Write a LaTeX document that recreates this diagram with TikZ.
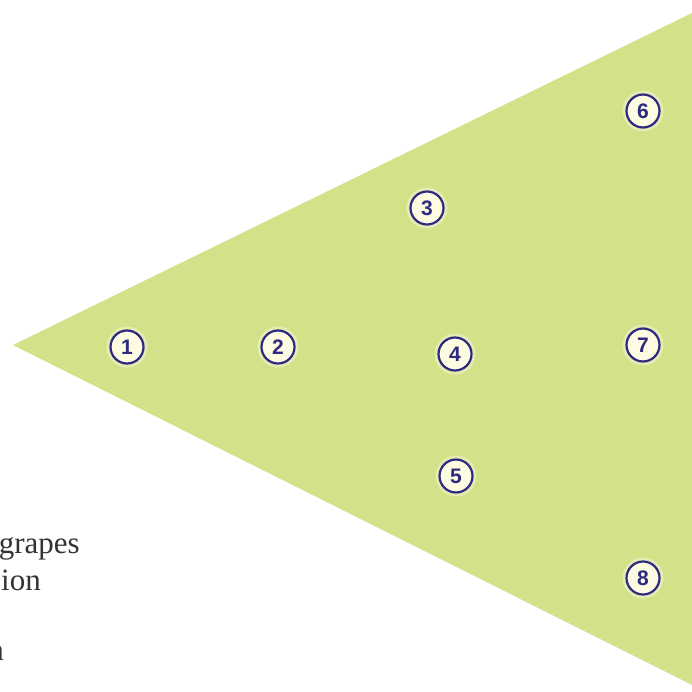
\documentclass[tikz,border=0pt]{standalone}
\usepackage{fontspec}
\setmainfont{Liberation Serif}
\newfontfamily\numfont{Liberation Sans}
\definecolor{leaf}{RGB}{211,225,137}
\definecolor{navy}{RGB}{45,42,128}
\definecolor{cream}{RGB}{253,251,226}
\tikzset{
  num/.style={circle, draw=navy, line width=2.2pt, fill=cream, minimum size=33pt, inner sep=0pt,
    font=\numfont\fontsize{21}{21}\selectfont\bfseries, text=navy},
  glow/.style={circle, fill=cream, opacity=0.45, minimum size=41pt, inner sep=0pt},
  lbl/.style={anchor=base east, inner sep=0pt, font=\fontsize{31}{31}\selectfont, text=black!80}
}
\begin{document}
\begin{tikzpicture}[x=1pt,y=-1pt]
\useasboundingbox (0,0) rectangle (692,692);
\clip (0,0) rectangle (692,692);
\coordinate (apex) at (13,345);
\coordinate (tr) at (692,13);
\coordinate (br) at (692,685);
\fill[leaf] (apex) -- (tr) -- (br) -- cycle;
\foreach \p/\q in {127/347, 278/347, 427/208, 455/354, 456/476, 643/111, 643/345, 643/578}
  \node[glow] at (\p,\q) {};
\node[num] (n1) at (127,347) {1};
\node[num] (n2) at (278,347) {2};
\node[num] (n3) at (427,208) {3};
\node[num] (n4) at (455,354) {4};
\node[num] (n5) at (456,476) {5};
\node[num] (n6) at (643,111) {6};
\node[num] (n7) at (643,345) {7};
\node[num] (n8) at (643,578) {8};
\node[lbl] (t1) at (80,553) {grapes};
\node[lbl] (t2) at (41,590) {ion};
\node[lbl] (t3) at (4,660) {n};
\end{tikzpicture}
\end{document}
